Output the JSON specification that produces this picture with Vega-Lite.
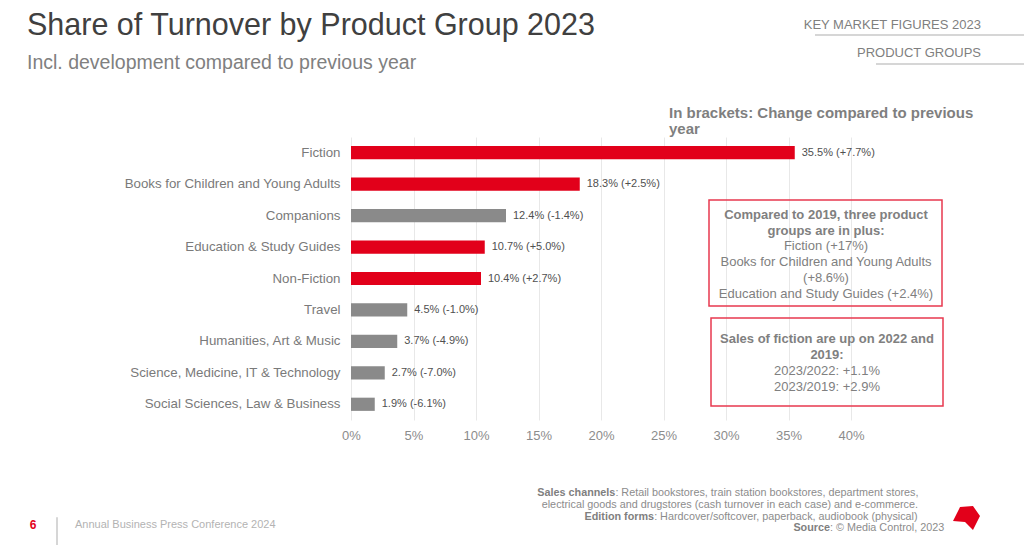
{
  "$schema": "https://vega.github.io/schema/vega-lite/v6.json",
  "autosize": "none",
  "width": 500,
  "height": 283,
  "padding": {"left": 351, "top": 137, "right": 173, "bottom": 125},
  "background": "white",
  "config": {"font": "Liberation Sans", "view": {"stroke": null}},
  "title": {
    "text": "Share of Turnover by Product Group 2023",
    "subtitle": "Incl. development compared to previous year",
    "anchor": "start",
    "frame": "group",
    "dx": -324,
    "dy": 64,
    "fontSize": 30.5,
    "fontWeight": "normal",
    "color": "#404040",
    "font": "Liberation Sans",
    "subtitleFont": "Liberation Sans",
    "subtitleFontSize": 19.5,
    "subtitleColor": "#808080",
    "subtitlePadding": 13,
    "offset": 10
  },
  "datasets": {
    "bars": [
      {"group": "Fiction", "share": 35.5, "change": 7.7, "label": "35.5% (+7.7%)"},
      {"group": "Books for Children and Young Adults", "share": 18.3, "change": 2.5, "label": "18.3% (+2.5%)"},
      {"group": "Companions", "share": 12.4, "change": -1.4, "label": "12.4% (-1.4%)"},
      {"group": "Education & Study Guides", "share": 10.7, "change": 5.0, "label": "10.7% (+5.0%)"},
      {"group": "Non-Fiction", "share": 10.4, "change": 2.7, "label": "10.4% (+2.7%)"},
      {"group": "Travel", "share": 4.5, "change": -1.0, "label": "4.5% (-1.0%)"},
      {"group": "Humanities, Art & Music", "share": 3.7, "change": -4.9, "label": "3.7% (-4.9%)"},
      {"group": "Science, Medicine, IT & Technology", "share": 2.7, "change": -7.0, "label": "2.7% (-7.0%)"},
      {"group": "Social Sciences, Law & Business", "share": 1.9, "change": -6.1, "label": "1.9% (-6.1%)"}
    ],
    "ann": [
      {"kind": "note", "ax": 25.44, "ay": -0.763, "t": "In brackets: Change compared to previous"},
      {"kind": "note", "ax": 25.44, "ay": -0.254, "t": "year"},
      {"kind": "boxbold", "ax": 38.0, "ay": 2.481, "t": "Compared to 2019, three product"},
      {"kind": "boxbold", "ax": 38.0, "ay": 2.99, "t": "groups are in plus:"},
      {"kind": "boxtext", "ax": 38.0, "ay": 3.467, "t": "Fiction (+17%)"},
      {"kind": "boxtext", "ax": 38.0, "ay": 3.976, "t": "Books for Children and Young Adults"},
      {"kind": "boxtext", "ax": 38.0, "ay": 4.485, "t": "(+8.6%)"},
      {"kind": "boxtext", "ax": 38.0, "ay": 4.994, "t": "Education and Study Guides (+2.4%)"},
      {"kind": "boxbold", "ax": 38.08, "ay": 6.425, "t": "Sales of fiction are up on 2022 and"},
      {"kind": "boxbold", "ax": 38.08, "ay": 6.934, "t": "2019:"},
      {"kind": "boxtext", "ax": 38.08, "ay": 7.443, "t": "2023/2022: +1.1%"},
      {"kind": "boxtext", "ax": 38.08, "ay": 7.952, "t": "2023/2019: +2.9%"},
      {"kind": "header", "ax": 50.4, "ay": -3.562, "t": "KEY MARKET FIGURES 2023"},
      {"kind": "header", "ax": 50.4, "ay": -2.672, "t": "PRODUCT GROUPS"},
      {"kind": "srcbold", "ax": 21.15, "ay": 11.323, "t": "Sales channels"},
      {"kind": "srctext", "ax": 21.15, "ay": 11.323, "t": ": Retail bookstores, train station bookstores, department stores,"},
      {"kind": "srcright", "ax": 45.36, "ay": 11.705, "t": "electrical goods and drugstores (cash turnover in each case) and e-commerce."},
      {"kind": "srcbold", "ax": 24.25, "ay": 12.087, "t": "Edition forms"},
      {"kind": "srctext", "ax": 24.25, "ay": 12.087, "t": ": Hardcover/softcover, paperback, audiobook (physical)"},
      {"kind": "srcbold", "ax": 38.32, "ay": 12.436, "t": "Source"},
      {"kind": "srctext", "ax": 38.32, "ay": 12.436, "t": ": © Media Control, 2023"},
      {"kind": "page", "ax": -25.7, "ay": 12.34, "t": "6"},
      {"kind": "footer", "ax": -22.08, "ay": 12.34, "t": "Annual Business Press Conference 2024"}
    ],
    "boxes": [
      {"x1": 28.64, "x2": 47.28, "y1": 2.004, "y2": 5.375},
      {"x1": 28.8, "x2": 47.36, "y1": 5.757, "y2": 8.556}
    ],
    "lines": [
      {"x1": 37.12, "x2": 53.84, "y1": -3.244, "y2": -3.244},
      {"x1": 42.0, "x2": 53.84, "y1": -2.322, "y2": -2.322},
      {"x1": -23.52, "x2": -23.52, "y1": 12.09, "y2": 12.98}
    ],
    "logo": [{"lx": 49.24, "ly": 12.118}]
  },
  "layer": [
    {
      "data": {"name": "bars"},
      "encoding": {
        "y": {
          "field": "group", "type": "nominal", "sort": null,
          "scale": {"paddingInner": 0.58, "paddingOuter": 0.29},
          "axis": {"title": null, "domain": false, "ticks": false, "labelPadding": 11, "labelFontSize": 13.3, "labelColor": "#7a7a7a", "labelFont": "Liberation Sans", "labelLimit": 300}
        },
        "x": {
          "field": "share", "type": "quantitative",
          "scale": {"domain": [0, 40], "nice": false},
          "axis": {"title": null, "values": [0, 5, 10, 15, 20, 25, 30, 35, 40], "labelExpr": "datum.value + '%'", "labelFlush": false, "domain": false, "ticks": false, "labelPadding": 9, "labelFontSize": 13, "labelColor": "#8c8c8c", "labelFont": "Liberation Sans", "grid": true, "gridColor": "#e8e8e8", "gridWidth": 1}
        }
      },
      "layer": [
        {
          "mark": {"type": "bar"},
          "encoding": {
            "color": {
              "condition": {"test": "datum.change > 0", "value": "#e2001a"},
              "value": "#8a8a8a"
            }
          }
        },
        {
          "mark": {"type": "text", "align": "left", "baseline": "middle", "dx": 7, "fontSize": 11, "color": "#505050", "font": "Liberation Sans"},
          "encoding": {"text": {"field": "label"}}
        }
      ]
    },
    {
      "data": {"name": "boxes"},
      "mark": {"type": "rect", "filled": false, "stroke": "#e8394f", "strokeWidth": 1.5},
      "encoding": {
        "x": {"field": "x1", "type": "quantitative"},
        "x2": {"field": "x2"},
        "y": {"field": "y1", "type": "quantitative", "scale": {"domain": [0, 9], "reverse": true, "nice": false, "zero": false}, "axis": null},
        "y2": {"field": "y2"}
      }
    },
    {
      "data": {"name": "lines"},
      "mark": {"type": "rule", "stroke": "#c8c8c8", "strokeWidth": 1.5},
      "encoding": {
        "x": {"field": "x1", "type": "quantitative"},
        "x2": {"field": "x2"},
        "y": {"field": "y1", "type": "quantitative", "scale": {"domain": [0, 9], "reverse": true, "nice": false, "zero": false}, "axis": null},
        "y2": {"field": "y2"}
      }
    },
    {
      "data": {"name": "logo"},
      "mark": {"type": "point", "filled": true, "opacity": 1, "color": "#e2001a", "size": 729, "shape": "M -1 0.22 L -0.48 -0.81 L 0.48 -0.89 L 1 -0.15 L 0.48 0.89 L -0.11 0.3 Z"},
      "encoding": {
        "x": {"field": "lx", "type": "quantitative"},
        "y": {"field": "ly", "type": "quantitative", "scale": {"domain": [0, 9], "reverse": true, "nice": false, "zero": false}, "axis": null}
      }
    },
    {
      "data": {"name": "ann"},
      "transform": [{"filter": "datum.kind === 'note'"}],
      "mark": {"type": "text", "align": "left", "baseline": "middle", "fontSize": 15, "fontWeight": "bold", "color": "#7f7f7f", "font": "Liberation Sans"},
      "encoding": {
        "x": {"field": "ax", "type": "quantitative"},
        "y": {"field": "ay", "type": "quantitative", "scale": {"domain": [0, 9], "reverse": true, "nice": false, "zero": false}, "axis": null},
        "text": {"field": "t"}
      }
    },
    {
      "data": {"name": "ann"},
      "transform": [{"filter": "datum.kind === 'boxbold'"}],
      "mark": {"type": "text", "align": "center", "baseline": "middle", "fontSize": 13, "fontWeight": "bold", "color": "#808080", "font": "Liberation Sans"},
      "encoding": {
        "x": {"field": "ax", "type": "quantitative"},
        "y": {"field": "ay", "type": "quantitative", "scale": {"domain": [0, 9], "reverse": true, "nice": false, "zero": false}, "axis": null},
        "text": {"field": "t"}
      }
    },
    {
      "data": {"name": "ann"},
      "transform": [{"filter": "datum.kind === 'boxtext'"}],
      "mark": {"type": "text", "align": "center", "baseline": "middle", "fontSize": 13, "color": "#808080", "font": "Liberation Sans"},
      "encoding": {
        "x": {"field": "ax", "type": "quantitative"},
        "y": {"field": "ay", "type": "quantitative", "scale": {"domain": [0, 9], "reverse": true, "nice": false, "zero": false}, "axis": null},
        "text": {"field": "t"}
      }
    },
    {
      "data": {"name": "ann"},
      "transform": [{"filter": "datum.kind === 'header'"}],
      "mark": {"type": "text", "align": "right", "baseline": "middle", "fontSize": 13, "color": "#7f7f7f", "font": "Liberation Sans"},
      "encoding": {
        "x": {"field": "ax", "type": "quantitative"},
        "y": {"field": "ay", "type": "quantitative", "scale": {"domain": [0, 9], "reverse": true, "nice": false, "zero": false}, "axis": null},
        "text": {"field": "t"}
      }
    },
    {
      "data": {"name": "ann"},
      "transform": [{"filter": "datum.kind === 'srcbold'"}],
      "mark": {"type": "text", "align": "right", "baseline": "middle", "fontSize": 10.8, "fontWeight": "bold", "color": "#7f7f7f", "font": "Liberation Sans"},
      "encoding": {
        "x": {"field": "ax", "type": "quantitative"},
        "y": {"field": "ay", "type": "quantitative", "scale": {"domain": [0, 9], "reverse": true, "nice": false, "zero": false}, "axis": null},
        "text": {"field": "t"}
      }
    },
    {
      "data": {"name": "ann"},
      "transform": [{"filter": "datum.kind === 'srctext'"}],
      "mark": {"type": "text", "align": "left", "baseline": "middle", "fontSize": 10.8, "color": "#8c8c8c", "font": "Liberation Sans"},
      "encoding": {
        "x": {"field": "ax", "type": "quantitative"},
        "y": {"field": "ay", "type": "quantitative", "scale": {"domain": [0, 9], "reverse": true, "nice": false, "zero": false}, "axis": null},
        "text": {"field": "t"}
      }
    },
    {
      "data": {"name": "ann"},
      "transform": [{"filter": "datum.kind === 'srcright'"}],
      "mark": {"type": "text", "align": "right", "baseline": "middle", "fontSize": 10.8, "color": "#8c8c8c", "font": "Liberation Sans"},
      "encoding": {
        "x": {"field": "ax", "type": "quantitative"},
        "y": {"field": "ay", "type": "quantitative", "scale": {"domain": [0, 9], "reverse": true, "nice": false, "zero": false}, "axis": null},
        "text": {"field": "t"}
      }
    },
    {
      "data": {"name": "ann"},
      "transform": [{"filter": "datum.kind === 'page'"}],
      "mark": {"type": "text", "align": "left", "baseline": "middle", "fontSize": 12, "fontWeight": "bold", "color": "#e2001a", "font": "Liberation Sans"},
      "encoding": {
        "x": {"field": "ax", "type": "quantitative"},
        "y": {"field": "ay", "type": "quantitative", "scale": {"domain": [0, 9], "reverse": true, "nice": false, "zero": false}, "axis": null},
        "text": {"field": "t"}
      }
    },
    {
      "data": {"name": "ann"},
      "transform": [{"filter": "datum.kind === 'footer'"}],
      "mark": {"type": "text", "align": "left", "baseline": "middle", "fontSize": 11, "color": "#b3b3b3", "font": "Liberation Sans"},
      "encoding": {
        "x": {"field": "ax", "type": "quantitative"},
        "y": {"field": "ay", "type": "quantitative", "scale": {"domain": [0, 9], "reverse": true, "nice": false, "zero": false}, "axis": null},
        "text": {"field": "t"}
      }
    }
  ],
  "resolve": {"scale": {"y": "independent"}}
}
